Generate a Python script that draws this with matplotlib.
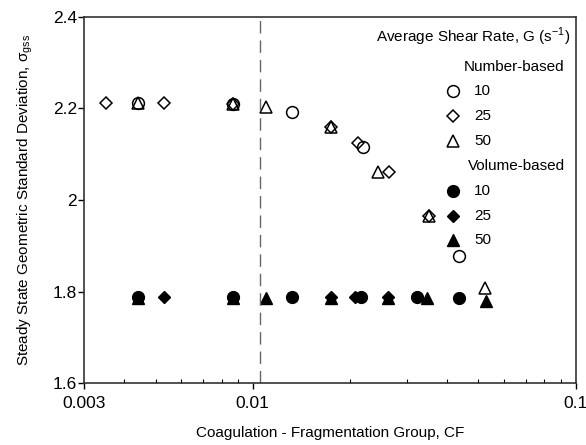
import matplotlib
matplotlib.use("Agg")
import matplotlib.pyplot as plt
from matplotlib.ticker import FixedLocator, NullFormatter

plt.rcParams["font.family"] = ["Liberation Sans", "DejaVu Sans"]
plt.rcParams["mathtext.fontset"] = "custom"
plt.rcParams["mathtext.rm"] = "Liberation Sans"

# --- data ---
# number-based (open markers)
num_g10_cf = [0.0044, 0.0087, 0.0132, 0.0220, 0.0436]
num_g10_sd = [2.211, 2.209, 2.193, 2.116, 1.878]
num_g25_cf = [0.0035, 0.0053, 0.0087, 0.0175, 0.0212, 0.0265, 0.0352]
num_g25_sd = [2.211, 2.211, 2.209, 2.160, 2.124, 2.062, 1.965]
num_g50_cf = [0.0044, 0.0087, 0.0110, 0.0175, 0.0245, 0.0352, 0.0524]
num_g50_sd = [2.211, 2.209, 2.203, 2.160, 2.062, 1.965, 1.807]

# volume-based (filled markers)
vol_g10_cf = [0.0044, 0.0087, 0.0132, 0.0217, 0.0323, 0.0435]
vol_g10_sd = [1.788, 1.788, 1.788, 1.788, 1.788, 1.787]
vol_g25_cf = [0.0053, 0.0087, 0.0175, 0.0207, 0.0263]
vol_g25_sd = [1.788, 1.788, 1.788, 1.788, 1.788]
vol_g50_cf = [0.0044, 0.0087, 0.0110, 0.0175, 0.0263, 0.0347, 0.0526]
vol_g50_sd = [1.786, 1.786, 1.786, 1.786, 1.786, 1.786, 1.780]

cf_critical = 0.01056
g_labels = ["10", "25", "50"]

fig = plt.figure(figsize=(5.86, 4.45), dpi=100)
ax = fig.add_axes([0.1433, 0.1387, 0.8391, 0.8238])

open_kw = dict(linestyle="none", markerfacecolor="none", markeredgecolor="black",
               markeredgewidth=1.1)
fill_kw = dict(linestyle="none", color="black")

ax.plot(num_g10_cf, num_g10_sd, marker="o", markersize=8.5, **open_kw)
ax.plot(num_g25_cf, num_g25_sd, marker="D", markersize=6.5, **open_kw)
ax.plot(num_g50_cf, num_g50_sd, marker="^", markersize=8.5, **open_kw)
ax.plot(vol_g10_cf, vol_g10_sd, marker="o", markersize=8.5, **fill_kw)
ax.plot(vol_g25_cf, vol_g25_sd, marker="D", markersize=6.5, **fill_kw)
ax.plot(vol_g50_cf, vol_g50_sd, marker="^", markersize=8.5, **fill_kw)

ax.axvline(cf_critical, color="#666666", linewidth=1.0, dashes=(9, 5))

ax.set_xscale("log")
ax.set_xlim(0.003, 0.1)
ax.set_ylim(1.6, 2.4)
ax.xaxis.set_major_locator(FixedLocator([0.003, 0.01, 0.1]))
ax.set_xticklabels(["0.003", "0.01", "0.1"])
ax.xaxis.set_minor_locator(FixedLocator([0.004, 0.005, 0.006, 0.007, 0.008, 0.009,
                                         0.02, 0.03, 0.04, 0.05, 0.06, 0.07, 0.08, 0.09]))
ax.xaxis.set_minor_formatter(NullFormatter())
ax.set_yticks([1.6, 1.8, 2.0, 2.2, 2.4])
ax.set_yticklabels(["1.6", "1.8", "2", "2.2", "2.4"])
ax.tick_params(axis="both", which="major", direction="out", length=4, width=1,
               labelsize=12.5, pad=1)
ax.tick_params(axis="x", which="major", pad=5)
ax.tick_params(axis="x", which="minor", direction="in", length=3, width=0.8)

for s in ax.spines.values():
    s.set_linewidth(1.2)
    s.set_color("#333333")

ax.set_xlabel("Coagulation - Fragmentation Group, CF", fontsize=11, labelpad=11)
ax.set_ylabel("Steady State Geometric Standard Deviation, σ$_\\mathregular{gss}$",
              fontsize=11, labelpad=13)

# --- legend drawn by hand in axes coordinates ---
tr = ax.transAxes
ax.text(0.990, 0.945, "Average Shear Rate, G (s$^\\mathregular{-1}$)", transform=tr,
        ha="right", va="center", fontsize=11)
ax.text(0.978, 0.863, "Number-based", transform=tr, ha="right", va="center", fontsize=11)
ax.text(0.978, 0.593, "Volume-based", transform=tr, ha="right", va="center", fontsize=11)

open_rows = [0.797, 0.729, 0.661]
fill_rows = [0.525, 0.456, 0.391]
markers = [("o", 8.5), ("D", 6.5), ("^", 8.5)]
for (m, ms), lab, yo, yf in zip(markers, g_labels, open_rows, fill_rows):
    ax.plot([0.750], [yo], marker=m, markersize=ms, transform=tr, clip_on=False, **open_kw)
    ax.plot([0.750], [yf], marker=m, markersize=ms, transform=tr, clip_on=False, **fill_kw)
    ax.text(0.793, yo, lab, transform=tr, ha="left", va="center", fontsize=11)
    ax.text(0.793, yf, lab, transform=tr, ha="left", va="center", fontsize=11)

fig.savefig("out.png", dpi=100)
